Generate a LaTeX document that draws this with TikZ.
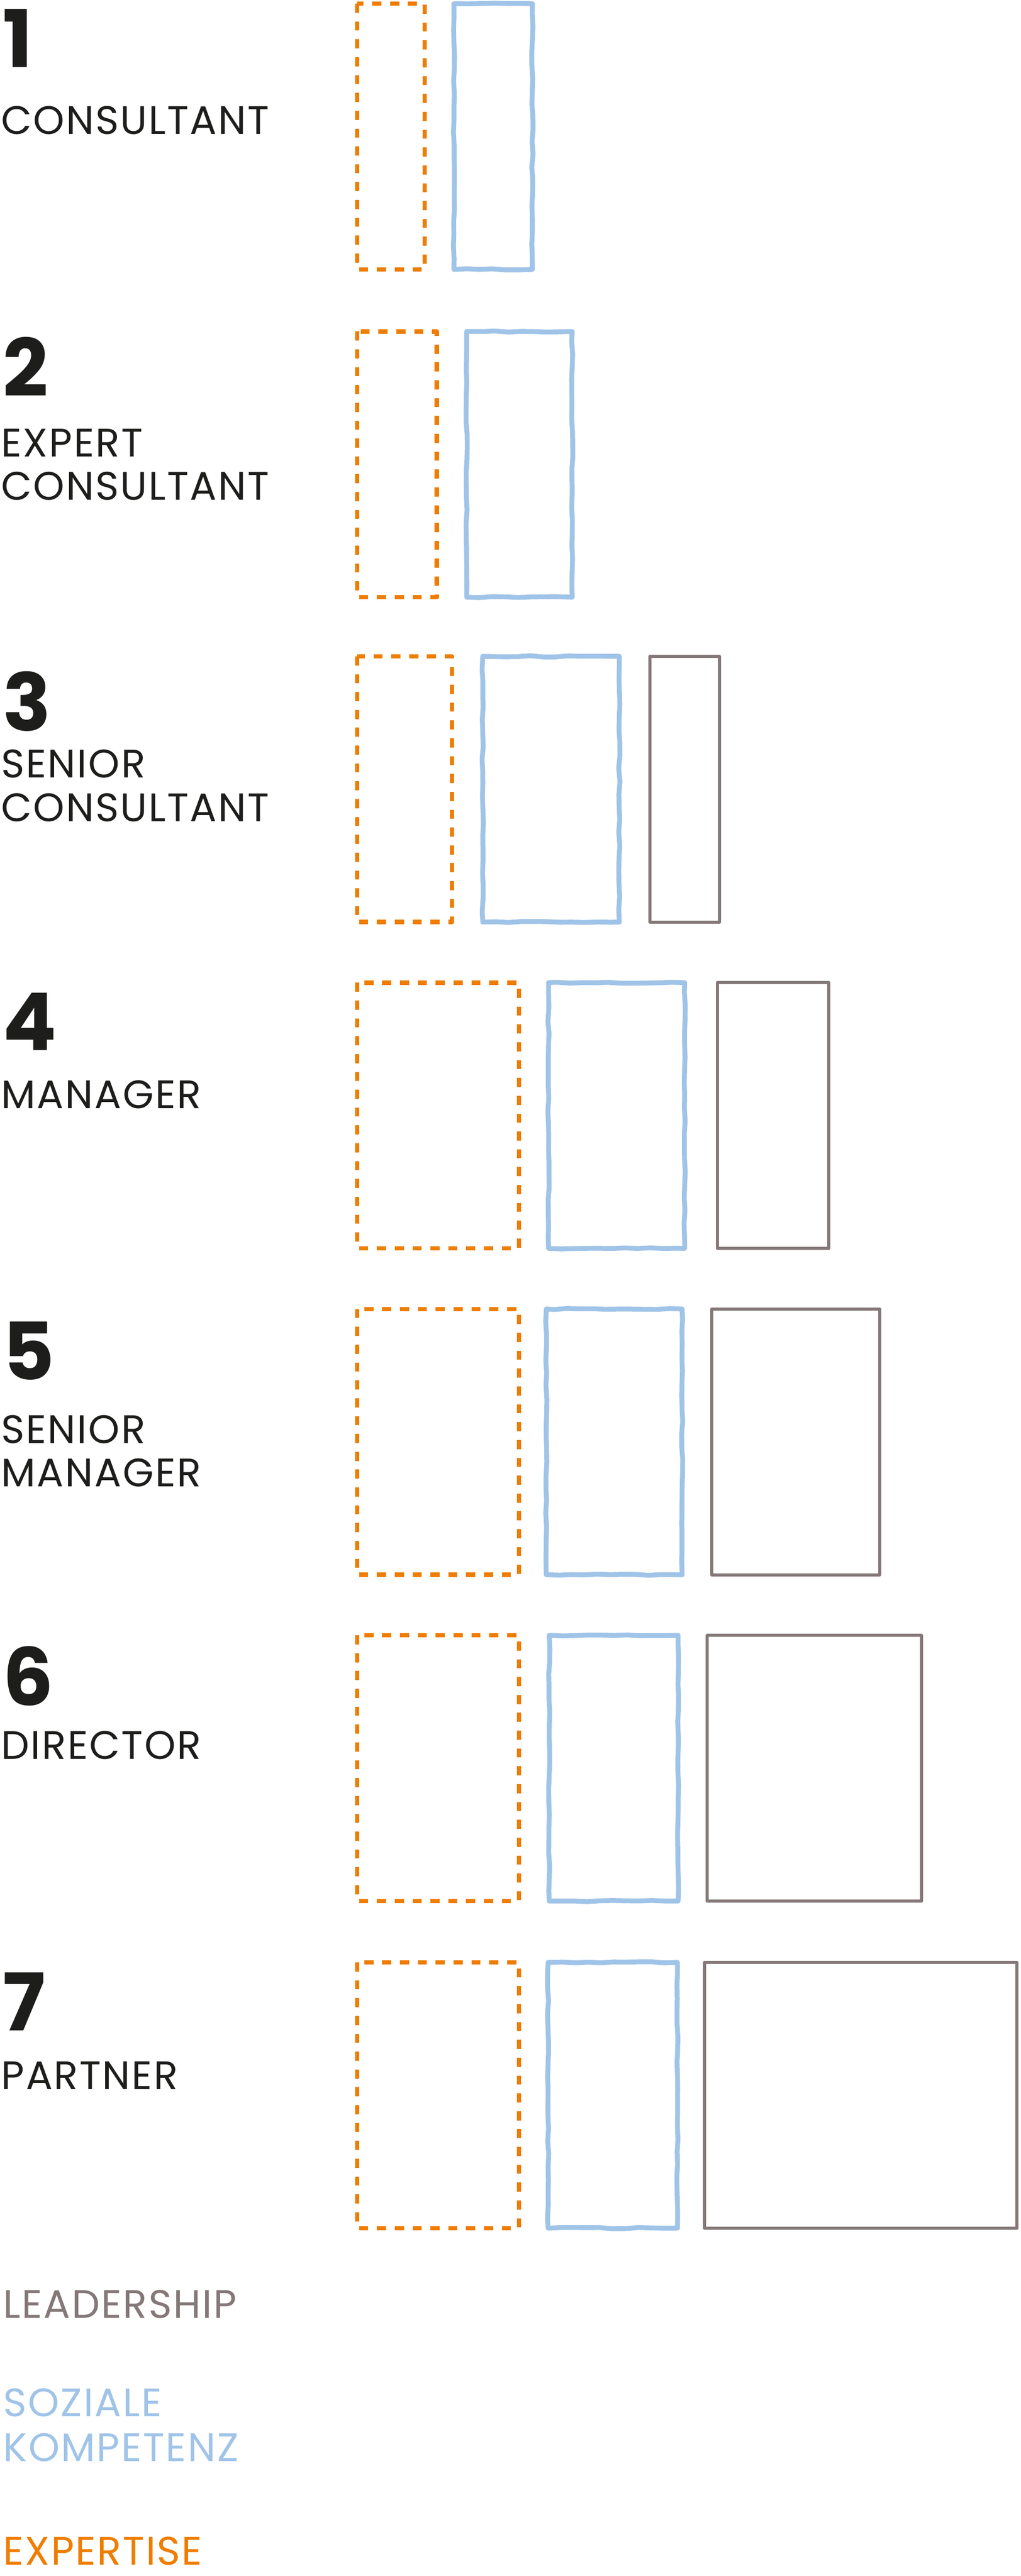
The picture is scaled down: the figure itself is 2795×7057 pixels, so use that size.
\documentclass[tikz,border=0pt]{standalone}
\usepackage{fontspec}
\setmainfont{Poppins}[LetterSpace=3.5]
\usetikzlibrary{decorations.pathmorphing}
\definecolor{expertise}{HTML}{EF7D00}
\definecolor{sozial}{HTML}{A0C4E8}
\definecolor{leader}{HTML}{857878}
\definecolor{ink}{HTML}{1D1D1B}
\tikzset{
  expbox/.style={draw=expertise, line width=3.4pt, dash pattern=on 7.1pt off 6.8pt},
  sozbox/.style={draw=sozial, line width=3.8pt, decorate,
    decoration={random steps, segment length=0.35cm, amplitude=0.5pt}},
  leadbox/.style={draw=leader, line width=2.4pt},
  levelnum/.style={anchor=base west, inner sep=0pt, text=ink, font=\fontsize{62}{62}\selectfont\bfseries},
  levelname/.style={anchor=base west, inner sep=0pt, text=ink, align=left, font=\fontsize{31}{33.9}\selectfont},
  legendtext/.style={anchor=base west, inner sep=0pt, align=left, font=\fontsize{31}{35}\selectfont}
}
\begin{document}
\begin{tikzpicture}[x=0.01cm, y=-0.01cm, line cap=butt, line join=round]
	\pgfmathsetseed{7}
	\useasboundingbox (0,0) rectangle (2795,7057);
	%Levels (base of a two-line name is its last line)
	\foreach \n/\rank/\numy/\ranky in {1/CONSULTANT/184/367, 2/{EXPERT\\CONSULTANT}/1086/1370,
		3/{SENIOR\\CONSULTANT}/2002/2250, 4/MANAGER/2877/3036, 5/{SENIOR\\MANAGER}/3780/4073,
		6/DIRECTOR/4672/4819, 7/PARTNER/5563/5724}{
		\node[levelnum] (num\n) at (7,\numy) {\n};
		\node[levelname] (rank\n) at (3,\ranky) {\rank};
	}

	%Expertise and soziale Kompetenz
	\foreach \top/\oR/\bL/\bR [evaluate=\top as \bot using \top+728] in {10/1163/1243/1458,
		908/1196/1278/1567, 1798/1238/1322/1696, 2692/1421/1502/1875,
		3586/1421/1496/1868, 4480/1421/1504/1857, 5376/1421/1501/1855}{
		\draw[expbox] (978,\top) rectangle (\oR,\bot);
		\draw[sozbox] (\bL,\top) rectangle (\bR,\bot);
	}

	%Leadership
	\foreach \top/\gL/\gR [evaluate=\top as \bot using \top+728] in {1798/1780/1970,
		2692/1964/2270, 3586/1949/2409, 4480/1937/2523, 5376/1929/2785}
		\draw[leadbox] (\gL,\top) rectangle (\gR,\bot);

	%Legend
	\node[legendtext, text=leader] (legLead) at (8,6350) {LEADERSHIP};
	\node[legendtext, text=sozial] (legSoz) at (8,6743) {SOZIALE\\KOMPETENZ};
	\node[legendtext, text=expertise] (legExp) at (8,7027) {EXPERTISE};
\end{tikzpicture}
\end{document}
